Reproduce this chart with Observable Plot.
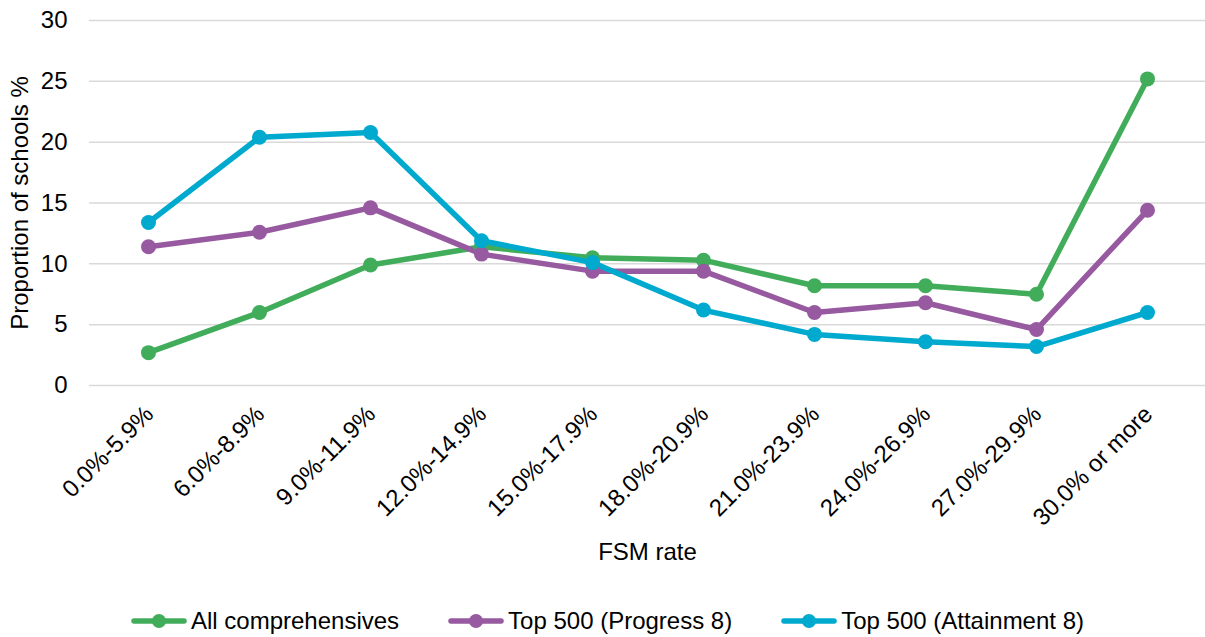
<!DOCTYPE html>
<html>
<head>
<meta charset="utf-8">
<script src="https://cdn.jsdelivr.net/npm/d3@7"></script>
<script src="https://cdn.jsdelivr.net/npm/@observablehq/plot@0.6"></script>
<style>
  html, body { margin: 0; padding: 0; background: #fff; }
  body { width: 1205px; height: 637px; overflow: hidden; font-family: "Liberation Sans", Arial, sans-serif; }
  #chart svg { display: block; }
  #legend { position: absolute; left: 0; top: 606px; width: 1205px; display: flex; justify-content: center; font-size: 24px; line-height: 30px; color: #000; padding-left: 10px; box-sizing: border-box; }
  .item { display: flex; align-items: center; margin-right: 49px; }
  .item:last-child { margin-right: 0; }
  .key { width: 56px; height: 16px; margin-right: 4px; }
</style>
</head>
<body>
<div id="chart"></div>
<div id="legend"></div>
<script>
const categories = ["0.0%-5.9%", "6.0%-8.9%", "9.0%-11.9%", "12.0%-14.9%", "15.0%-17.9%", "18.0%-20.9%", "21.0%-23.9%", "24.0%-26.9%", "27.0%-29.9%", "30.0% or more"];
const seriesNames = ["All comprehensives", "Top 500 (Progress 8)", "Top 500 (Attainment 8)"];
const allComprehensives = [2.7, 6.0, 9.9, 11.4, 10.5, 10.3, 8.2, 8.2, 7.5, 25.2];
const top500Progress8 = [11.4, 12.6, 14.6, 10.8, 9.4, 9.4, 6.0, 6.8, 4.6, 14.4];
const top500Attainment8 = [13.4, 20.4, 20.8, 11.9, 10.1, 6.2, 4.2, 3.6, 3.2, 6.0];
const colors = ["#41AD5B", "#97599F", "#00A9CE"];
const yTicks = [0, 5, 10, 15, 20, 25, 30];
const yLabel = "Proportion of schools %";
const xLabel = "FSM rate";

const valuesBySeries = [allComprehensives, top500Progress8, top500Attainment8];
const data = [];
seriesNames.forEach((s, i) => categories.forEach((c, j) => data.push({series: s, cat: c, value: valuesBySeries[i][j]})));

const H = 600;
const chart = Plot.plot({
  width: 1205,
  height: H,
  marginLeft: 89,
  marginRight: 0,
  marginTop: 20,
  marginBottom: H - 385,
  style: {fontFamily: "Liberation Sans, Arial, sans-serif", fontSize: "24px", color: "#000", background: "#fff", overflow: "visible"},
  x: {type: "point", domain: categories, padding: 0.5},
  y: {domain: [0, 30]},
  color: {domain: seriesNames, range: colors},
  marks: [
    Plot.gridY(yTicks, {stroke: "#d9d9d9", strokeOpacity: 1, strokeWidth: 1.5}),
    Plot.axisY(yTicks, {tickSize: 0, tickPadding: 22, fontSize: 24, label: null}),
    Plot.axisX({tickSize: 0, tickRotate: -45, fontSize: 24, label: null, dy: 13, dx: 1}),
    Plot.text([yLabel], {frameAnchor: "left", textAnchor: "middle", dx: -69, rotate: -90, fontSize: 24}),
    Plot.text([xLabel], {frameAnchor: "bottom", textAnchor: "middle", dy: 174, fontSize: 24}),
    Plot.line(data, {x: "cat", y: "value", z: "series", stroke: "series", strokeWidth: 5.5}),
    Plot.dot(data, {x: "cat", y: "value", fill: "series", r: 7.5, stroke: "none"})
  ]
});
document.getElementById("chart").appendChild(chart);

const legend = document.getElementById("legend");
seriesNames.forEach((s, i) => {
  const item = document.createElement("div");
  item.className = "item";
  item.innerHTML = `<svg class="key" viewBox="0 0 56 16"><line x1="3" x2="53" y1="8" y2="8" stroke="${colors[i]}" stroke-width="5.5" stroke-linecap="round"/><circle cx="28" cy="8" r="7" fill="${colors[i]}"/></svg><span>${s}</span>`;
  legend.appendChild(item);
});
</script>
</body>
</html>
